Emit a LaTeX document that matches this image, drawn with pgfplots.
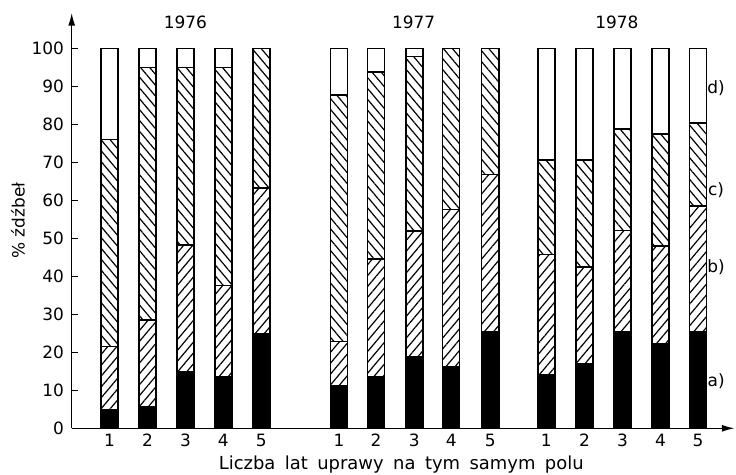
\documentclass[border=0pt]{standalone}
\usepackage{fontspec}
\setmainfont{DejaVu Sans}
\usepackage{pgfplots}
\usepackage{pgfplotstable}
\pgfplotsset{compat=1.18}
\usetikzlibrary{patterns.meta,arrows.meta}

\pgfplotstableread{
x a b c d
1 4.8 16.7 54.5 24
2 5.6 22.9 66.5 5
3 14.8 33.4 46.8 5
4 13.6 24.0 57.4 5
5 24.9 38.3 36.8 0
7.05 11.3 11.5 64.9 12.3
8.03 13.6 30.9 49.3 6.2
9.04 18.9 33.1 45.9 2.1
10.01 16.3 41.3 42.4 0
11.04 25.4 41.4 33.2 0
12.52 14.0 31.8 24.9 29.3
13.53 17.0 25.4 28.3 29.3
14.53 25.5 26.6 26.7 21.2
15.53 22.3 25.7 29.5 22.5
16.52 25.5 33.0 21.9 19.6
}\data

\newcommand{\lf}{\fontsize{17}{20}\selectfont}

\begin{document}
\begin{tikzpicture}
\lf
\useasboundingbox (-71.7bp,-46.7bp) rectangle (664.3bp,428.3bp);
\begin{axis}[
  at={(0,0)}, anchor=south west,
  scale only axis, width=663bp, height=415.6bp,
  xmin=0, xmax=17.49, ymin=0, ymax=109.4,
  axis lines=left,
  axis line style={line width=1.5pt, -{Latex[length=13pt,width=7pt]}},
  ytick={0,10,...,100},
  tick align=inside, major tick length=6pt,
  tick style={line width=1.3pt, black},
  xtick={1,2,3,4,5,7.05,8.03,9.04,10.01,11.04,12.52,13.53,14.53,15.53,16.52},
  xticklabels={1,2,3,4,5,1,2,3,4,5,1,2,3,4,5},
  x tick style={draw=none},
  /pgf/number format/assume math mode=true,
  ticklabel style={font=\lf},
  yticklabel style={xshift=-2pt},
  ylabel={\% źdźbeł},
  ylabel style={at={(axis description cs:-0.081,0.5)}, anchor=center, font=\lf},
  xlabel={\spaceskip=9.5pt plus 1pt Liczba lat uprawy na tym samym polu},
  xlabel style={at={(axis description cs:0.497,-0.087)}, anchor=center, font=\fontsize{18}{21}\selectfont},
  ybar stacked, bar width=0.45,
  every axis plot/.append style={draw=black, line width=1.6pt},
  clip=false,
]
\addplot[fill=black] table[x=x,y=a]{\data};
\addplot[pattern={Lines[angle=50,distance=7pt,line width=1.2pt]}, pattern color=black] table[x=x,y=b]{\data};
\addplot[pattern={Lines[angle=-50,distance=7pt,line width=1.2pt]}, pattern color=black] table[x=x,y=c]{\data};
\addplot[fill=white] table[x=x,y=d]{\data};
\node[font=\lf] at (axis cs:3,106.8) {1976};
\node[font=\lf] at (axis cs:9.02,106.8) {1977};
\node[font=\lf] at (axis cs:14.38,106.8) {1978};
\node[font=\lf] at (axis cs:17.0,89.5) {d)};
\node[font=\lf] at (axis cs:17.0,62.7) {c)};
\node[font=\lf] at (axis cs:17.0,42.3) {b)};
\node[font=\lf] at (axis cs:17.0,12.3) {a)};
\end{axis}
\end{tikzpicture}
\end{document}
